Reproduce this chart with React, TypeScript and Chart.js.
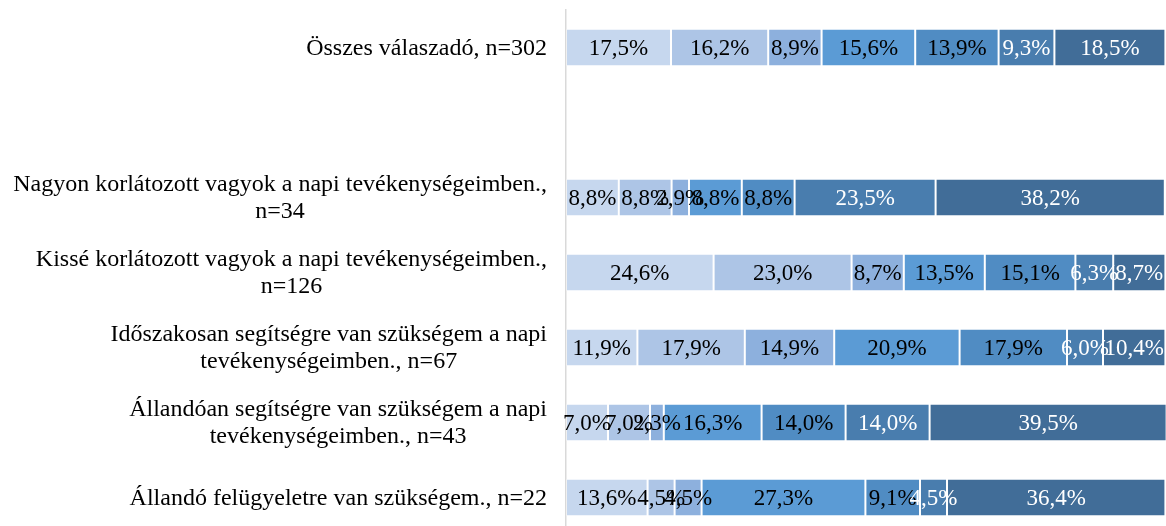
import React, { useEffect, useRef } from "react";
import { Chart, registerables } from "chart.js";

Chart.register(...registerables);

// Categories (top to bottom); the empty entry is the gap row
const categories: string[][] = [
  ["Összes válaszadó, n=302"],
  [""],
  ["Nagyon korlátozott vagyok a napi tevékenységeimben.,", "n=34"],
  ["Kissé korlátozott vagyok a napi tevékenységeimben.,", "n=126"],
  ["Időszakosan segítségre van szükségem a napi", "tevékenységeimben., n=67"],
  ["Állandóan segítségre van szükségem a napi", "tevékenységeimben., n=43"],
  ["Állandó felügyeletre van szükségem., n=22"],
];

const seriesNames = ["1", "2", "3", "4", "5", "6", "7"];

const series1 = [17.5, null, 8.8, 24.6, 11.9, 7.0, 13.6];
const series2 = [16.2, null, 8.8, 23.0, 17.9, 7.0, 4.5];
const series3 = [8.9, null, 2.9, 8.7, 14.9, 2.3, 4.5];
const series4 = [15.6, null, 8.8, 13.5, 20.9, 16.3, 27.3];
const series5 = [13.9, null, 8.8, 15.1, 17.9, 14.0, 9.1];
const series6 = [9.3, null, 23.5, 6.3, 6.0, 14.0, 4.5];
const series7 = [18.5, null, 38.2, 8.7, 10.4, 39.5, 36.4];

const seriesValues = [series1, series2, series3, series4, series5, series6, series7];

const seriesColors = [
  "#C6D7EE",
  "#ADC5E6",
  "#8DB0DD",
  "#5B9BD5",
  "#508CC3",
  "#497DAE",
  "#416D98",
];
const valueLabelColors = ["#000000", "#000000", "#000000", "#000000", "#000000", "#FFFFFF", "#FFFFFF"];

const fmt = (v: number) => v.toFixed(1).replace(".", ",") + "%";

const valueLabelPlugin = {
  id: "valueLabels",
  afterDatasetsDraw(chart: any) {
    const ctx = chart.ctx;
    ctx.save();
    ctx.font = "23px 'Liberation Serif'";
    ctx.textAlign = "center";
    ctx.textBaseline = "middle";
    chart.data.datasets.forEach((ds: any, i: number) => {
      const meta = chart.getDatasetMeta(i);
      meta.data.forEach((el: any, j: number) => {
        const v = ds.data[j];
        if (v == null) return;
        const p = el.getProps(["x", "y", "base"], true);
        ctx.fillStyle = valueLabelColors[i];
        ctx.fillText(fmt(v), (p.x + p.base) / 2, p.y + 1);
      });
    });
    ctx.restore();
  },
};

const categoryLabelPlugin = {
  id: "categoryLabels",
  afterDraw(chart: any) {
    const ctx = chart.ctx;
    const yScale = chart.scales.y;
    const right = chart.chartArea.left - 19;
    const lineH = 27;
    ctx.save();
    ctx.font = "24px 'Liberation Serif'";
    ctx.fillStyle = "#000000";
    ctx.textAlign = "center";
    ctx.textBaseline = "middle";
    categories.forEach((lines, idx) => {
      const cy = yScale.getPixelForValue(idx);
      const w = Math.max(...lines.map((l) => ctx.measureText(l).width));
      const cx = right - w / 2;
      lines.forEach((line, k) => {
        const y = cy + (k - (lines.length - 1) / 2) * lineH + 1;
        ctx.fillText(line, cx, y);
      });
    });
    ctx.restore();
  },
};

export default function App() {
  const canvasRef = useRef<HTMLCanvasElement | null>(null);

  useEffect(() => {
    if (!canvasRef.current) return;
    const chart = new Chart(canvasRef.current, {
      type: "bar",
      data: {
        labels: categories,
        datasets: seriesValues.map((vals, i) => ({
          label: seriesNames[i],
          data: vals,
          backgroundColor: seriesColors[i],
          borderColor: "rgba(255,255,255,0.22)",
          borderWidth: 1,
          borderSkipped: false,
          categoryPercentage: 0.5,
          barPercentage: 1,
        })),
      },
      options: {
        indexAxis: "y",
        animation: false,
        responsive: false,
        layout: { padding: { top: 10, right: 0, bottom: 0, left: 0 } },
        plugins: {
          legend: { display: false },
          tooltip: { enabled: false },
        },
        scales: {
          x: { stacked: true, min: 0, max: 100, display: false },
          y: {
            stacked: true,
            grid: { display: false },
            border: { display: true, color: "#D9D9D9", width: 1.5 },
            ticks: { display: false },
            afterFit: (s: any) => {
              s.width = 566;
            },
          },
        },
      } as any,
      plugins: [valueLabelPlugin, categoryLabelPlugin],
    });
    return () => chart.destroy();
  }, []);

  return (
    <div style={{ position: "fixed", left: 0, top: 0, width: 1166, height: 535, background: "#fff" }}>
      <canvas ref={canvasRef} width={1166} height={535} style={{ display: "block" }} />
    </div>
  );
}
